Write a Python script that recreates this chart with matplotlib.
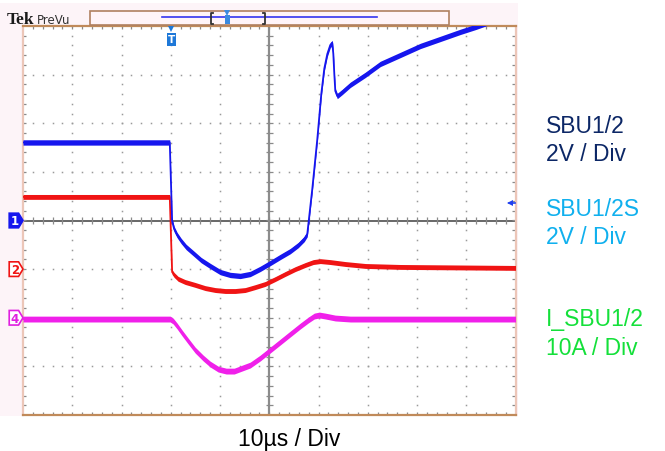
import numpy as np
import matplotlib
matplotlib.use("Agg")
import matplotlib.pyplot as plt
from matplotlib.patches import Rectangle, Polygon
from matplotlib.lines import Line2D
from matplotlib.collections import LineCollection
from matplotlib.transforms import Affine2D

# ---------------- data ----------------
US_PER_DIV = 10.0
CH1_V_PER_DIV, CH1_OFFSET_DIV = 2.0, 0.0
CH2_V_PER_DIV, CH2_OFFSET_DIV = 2.0, -1.0
CH4_A_PER_DIV, CH4_OFFSET_DIV = 10.0, -2.0

time_ch1 = [0, 29.8, 30.28, 30.69, 31.30, 32.11, 33.13, 34.55, 36.18, 38.01, 40.04,
            42.07, 44.11, 46.14, 48.17, 50.20, 52.24, 54.27, 55.89, 57.11, 57.72,
            58.74, 59.76, 60.57, 61.18, 61.79, 62.40, 62.80, 63.01, 63.21, 63.41,
            63.82, 64.84, 66.46, 69.51, 72.56, 76.63, 80.69, 84.76, 88.82, 91.87, 100]
ch1_V = [3.21, 3.21, -0.02, -0.35, -0.60, -0.84, -1.09, -1.34, -1.63, -1.87, -2.12,
         -2.24, -2.28, -2.20, -1.99, -1.75, -1.50, -1.26, -1.01, -0.76, -0.56,
         1.30, 3.35, 5.21, 6.25, 6.85, 7.22, 7.30, 6.85, 6.03, 5.33,
         5.12, 5.29, 5.58, 5.99, 6.44, 6.81, 7.18, 7.47, 7.76, 7.96, 8.54]

time_ch2 = [0, 29.8, 30.28, 30.69, 31.50, 32.93, 34.96, 36.99, 39.02, 41.06, 43.09,
            45.12, 47.15, 49.19, 51.22, 53.25, 55.28, 57.32, 58.94, 60.37, 62.40,
            65.45, 69.51, 76.63, 100]
ch2_V = [2.97, 2.97, -0.12, -0.24, -0.40, -0.53, -0.65, -0.78, -0.86, -0.90, -0.90,
         -0.86, -0.74, -0.61, -0.41, -0.20, 0.00, 0.17, 0.29, 0.33, 0.29,
         0.21, 0.13, 0.09, 0.05]

time_ch4 = [0, 29.88, 30.49, 31.30, 32.32, 33.54, 34.96, 36.59, 38.01, 39.63, 41.26,
            42.89, 44.51, 46.14, 48.17, 50.20, 52.24, 54.27, 56.30, 57.93, 59.15,
            60.16, 61.38, 63.41, 66.46, 100]
ch4_A = [-0.27, -0.27, -0.68, -1.71, -3.15, -4.79, -6.65, -8.29, -9.53, -10.56, -10.97,
         -10.97, -10.35, -9.73, -8.29, -6.65, -5.00, -3.35, -1.71, -0.47, 0.35,
         0.56, 0.35, -0.06, -0.27, -0.27]

label_ch1 = ["SBU1/2", "2V / Div"]
label_ch2 = ["SBU1/2S", "2V / Div"]
label_ch4 = ["I_SBU1/2", "10A / Div"]
label_time = "10µs / Div"

# ---------------- figure ----------------
W, H = 665, 452
fig = plt.figure(figsize=(W / 100, H / 100), dpi=100)
fig.patch.set_facecolor("white")
PX = Affine2D().scale(1.0 / W, -1.0 / H).translate(0, 1) + fig.transFigure

def fx(px):
    return px / W

def fy(py):
    return 1 - py / H

# pinkish scope screen background (behind the axes)
fig.patches.append(Rectangle((0, 4), 518, 413, transform=PX, facecolor="#fdf4f8",
                             edgecolor="none", zorder=-5))

ax = fig.add_axes([fx(23), fy(416), fx(515.5) - fx(23), fy(27) - fy(416)])
ax.set_zorder(1)
ax.set_xlim(0, 10)
ax.set_ylim(-4, 4)
ax.set_facecolor("white")
ax.set_xticks([])
ax.set_yticks([])
for s in ["top", "bottom"]:
    ax.spines[s].set_color("#c08a5a")
    ax.spines[s].set_linewidth(1.6)
for s in ["left", "right"]:
    ax.spines[s].set_color("#ecc6b8")
    ax.spines[s].set_linewidth(1.6)

# graticule dots
gx, gy = [], []
for k in range(1, 10):
    if k == 5:
        continue
    ys = np.arange(-4, 4.001, 0.2)
    gx += [k] * len(ys)
    gy += list(ys)
for k in range(-3, 4):
    if k == 0:
        continue
    xs = np.arange(0, 10.001, 0.2)
    gx += list(xs)
    gy += [k] * len(xs)
ax.plot(gx, gy, ls="none", marker="s", ms=1.1, mew=0, color="#9a9a9a", zorder=1)

# center lines
ax.axhline(0, color="#5c5c5c", lw=1.3, zorder=1)
ax.axvline(5, color="#8c8c8c", lw=1.6, zorder=1)
segs = []
for x in np.arange(0.2, 10, 0.2):
    segs.append([(x, -0.07), (x, 0.07)])
    segs.append([(x, 4), (x, 3.93)])
    segs.append([(x, -4), (x, -3.93)])
for y in np.arange(-3.8, 4, 0.2):
    segs.append([(4.93, y), (5.07, y)])
    segs.append([(0, y), (0.07, y)])
    segs.append([(10, y), (9.93, y)])
ax.add_collection(LineCollection(segs, colors="#8a8a8a", linewidths=0.9, zorder=1))

# traces
def trace(t, v, per_div, off, color, half):
    x = np.array(t) / US_PER_DIV
    y = np.array(v) / per_div + off
    ax.fill_between(x, y - half, y + half, color=color, lw=0, zorder=3)
    ax.plot(x, y, color=color, lw=1.3, zorder=3, solid_joinstyle="round")

trace(time_ch4, ch4_A, CH4_A_PER_DIV, CH4_OFFSET_DIV, "#f020ea", 0.06)
trace(time_ch2, ch2_V, CH2_V_PER_DIV, CH2_OFFSET_DIV, "#f01414", 0.05)
trace(time_ch1, ch1_V, CH1_V_PER_DIV, CH1_OFFSET_DIV, "#1616ee", 0.055)

# channel markers on the left
def ch_marker(y, num, edge, fill, txt):
    pts = [(-0.28, y + 0.15), (-0.09, y + 0.15), (0.0, y), (-0.09, y - 0.15), (-0.28, y - 0.15)]
    ax.add_patch(Polygon(pts, closed=True, facecolor=fill, edgecolor=edge, lw=1.2,
                         clip_on=False, zorder=5))
    ax.text(-0.165, y - 0.01, num, color=txt, fontsize=8.5, fontweight="bold",
            ha="center", va="center", clip_on=False, zorder=6, family="DejaVu Sans")

ch_marker(CH1_OFFSET_DIV, "1", "#1616ee", "#1616ee", "white")
ch_marker(CH2_OFFSET_DIV, "2", "#f01414", "white", "#f01414")
ch_marker(CH4_OFFSET_DIV, "4", "#e020e0", "white", "#e020e0")

# trigger level arrow on right
fig.lines.append(Line2D([509, 515], [204, 204], transform=PX, color="#2040ee", lw=1.2, zorder=5))
fig.lines.append(Line2D([510], [204], transform=PX, marker="<", ms=5, color="#2040ee",
                        mew=0, ls="none", zorder=5))

# trigger position marker at top
fig.lines.append(Line2D([171], [30], transform=PX, marker="v", ms=5, color="#1e78d8",
                        mew=0, ls="none", zorder=5))
fig.patches.append(Rectangle((167, 33.5), 8.5, 13, transform=PX, facecolor="#1e78d8",
                             edgecolor="none", zorder=5))
fig.text(fx(171.2), fy(40.5), "T", color="white", fontsize=7.5, fontweight="bold",
         ha="center", va="center", family="DejaVu Sans", zorder=6)

# Tek / PreVu header
fig.text(fx(7), fy(24.5), "Tek", color="#1a1a1a", fontsize=12.5, fontweight="bold",
         family=["Liberation Serif", "DejaVu Serif"], va="baseline", ha="left", zorder=6)
fig.text(fx(37), fy(24), "PreVu", color="#333333", fontsize=8.5,
         family=["Liberation Sans Narrow", "DejaVu Sans"], va="baseline", ha="left", zorder=6)

# record bar
fig.patches.append(Rectangle((90, 12), 359, 14, transform=PX, facecolor="#fff4f8",
                             edgecolor="#b08060", lw=1.2, zorder=4))
fig.lines.append(Line2D([162, 377], [18, 18], transform=PX, color="#3434f0", lw=1.2, zorder=5))
fig.lines.append(Line2D([213, 211, 211, 213], [13.5, 13.5, 24.5, 24.5], transform=PX,
                        color="#333333", lw=1.3, zorder=5))
fig.lines.append(Line2D([263, 265, 265, 263], [13.5, 13.5, 24.5, 24.5], transform=PX,
                        color="#333333", lw=1.3, zorder=5))
fig.lines.append(Line2D([227], [14], transform=PX, marker="v", ms=4, color="#3a8ae0",
                        mew=0, ls="none", zorder=5))
fig.patches.append(Rectangle((224.5, 16), 5, 9, transform=PX, facecolor="#3a8ae0",
                             edgecolor="none", zorder=5))

# right-side channel labels
FONT = ["Liberation Sans", "DejaVu Sans"]
FS = 16.5
fig.text(fx(546), fy(133), label_ch1[0], color="#0c2766", fontsize=FS, family=FONT, va="baseline")
fig.text(fx(546), fy(161), label_ch1[1], color="#0c2766", fontsize=FS, family=FONT, va="baseline")
fig.text(fx(546), fy(216), label_ch2[0], color="#10b0ee", fontsize=FS, family=FONT, va="baseline")
fig.text(fx(546), fy(244), label_ch2[1], color="#10b0ee", fontsize=FS, family=FONT, va="baseline")
fig.text(fx(546), fy(326), label_ch4[0], color="#14e03a", fontsize=FS, family=FONT, va="baseline")
fig.text(fx(546), fy(355), label_ch4[1], color="#14e03a", fontsize=FS, family=FONT, va="baseline")

fig.text(fx(289), fy(446), label_time, color="black", fontsize=FS, family=FONT,
         va="baseline", ha="center")

fig.savefig("out.png", dpi=100, facecolor="white")
